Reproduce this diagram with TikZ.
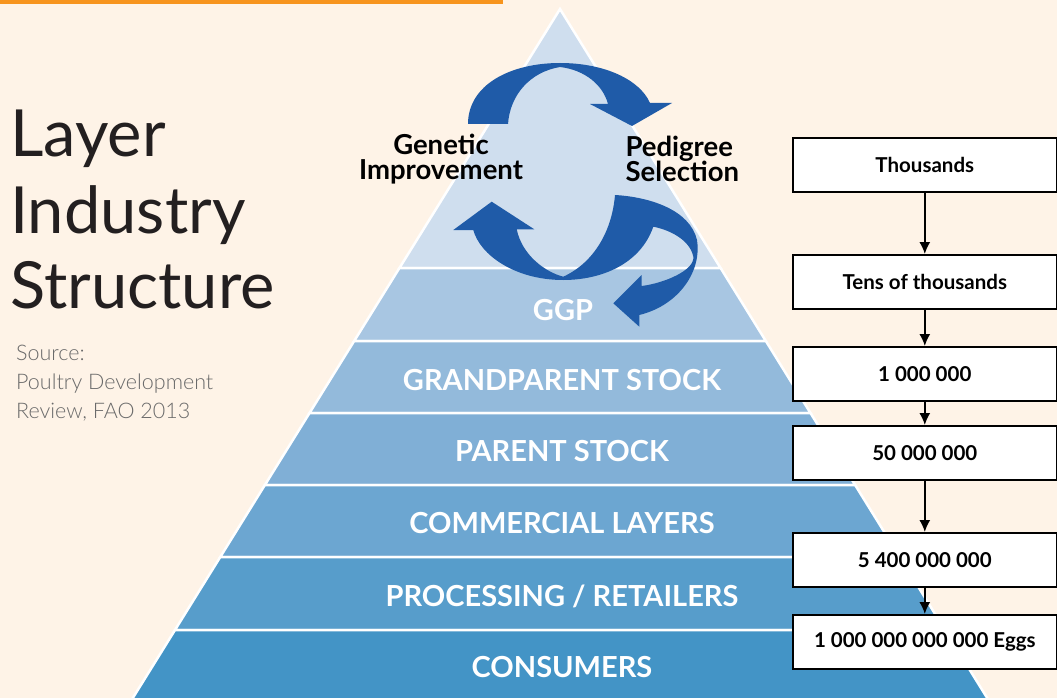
\documentclass[tikz,border=0pt]{standalone}
\usepackage{fontspec}
\setmainfont{Lato}
\newfontfamily\lightfont{Lato Light}
\definecolor{bg}{HTML}{FEF3E7}
\definecolor{orangebar}{HTML}{F7941D}
\definecolor{bandA}{HTML}{CFDEEE}
\definecolor{bandB}{HTML}{A8C6E2}
\definecolor{bandC}{HTML}{93BADB}
\definecolor{bandD}{HTML}{80AFD6}
\definecolor{bandE}{HTML}{6CA6D1}
\definecolor{bandF}{HTML}{579DCB}
\definecolor{bandG}{HTML}{4394C6}
\definecolor{arrowblue}{HTML}{1F5BA8}
\definecolor{titlegray}{HTML}{231F20}
\definecolor{srcgray}{HTML}{6A6A6A}
\begin{document}
\begin{tikzpicture}[x=1pt,y=-1pt,
  band/.style={draw=white,line width=2.5pt},
  bandlabel/.style={text=white,font=\fontsize{29}{30}\selectfont\bfseries,anchor=center},
  countbox/.style={draw=black,line width=1.6pt,fill=white,minimum width=264pt,minimum height=54pt,inner sep=0pt,font=\fontsize{20.5}{22}\selectfont\bfseries,anchor=north west},
  flow/.style={-{Latex[length=12pt,width=11pt]},line width=1.6pt,black},
  cyclelabel/.style={font=\fontsize{27.5}{26}\selectfont\bfseries,text=black,align=center},
  titletext/.style={anchor=base west,inner sep=0pt,text=titlegray,font=\fontsize{65}{65}\selectfont},
  srctext/.style={anchor=base west,inner sep=0pt,text=srcgray,font=\lightfont\fontsize{21.5}{22}\selectfont}]
\usetikzlibrary{arrows.meta}
\useasboundingbox (0,0) rectangle (1057,698);
\fill[bg] (0,0) rectangle (1057,698);
\fill[orangebar] (0,0) rectangle (503,4);
% pyramid bands: x = 560 -/+ 0.62*(y-9)
\def\xl#1{\fpeval{560-0.62*(#1-9)}}
\def\xr#1{\fpeval{560+0.62*(#1-9)}}
\filldraw[band,fill=bandA] (560,9) -- (\xr{268},268) -- (\xl{268},268) -- cycle;
\filldraw[band,fill=bandB] (\xl{268},268) -- (\xr{268},268) -- (\xr{341},341) -- (\xl{341},341) -- cycle;
\filldraw[band,fill=bandC] (\xl{341},341) -- (\xr{341},341) -- (\xr{413},413) -- (\xl{413},413) -- cycle;
\filldraw[band,fill=bandD] (\xl{413},413) -- (\xr{413},413) -- (\xr{485},485) -- (\xl{485},485) -- cycle;
\filldraw[band,fill=bandE] (\xl{485},485) -- (\xr{485},485) -- (\xr{557},557) -- (\xl{557},557) -- cycle;
\filldraw[band,fill=bandF] (\xl{557},557) -- (\xr{557},557) -- (\xr{630},630) -- (\xl{630},630) -- cycle;
\filldraw[band,fill=bandG] (\xl{630},630) -- (\xr{630},630) -- (\xr{710},710) -- (\xl{710},710) -- cycle;
% layer labels
\node[bandlabel] (ggp) at (563,310) {GGP};
\node[bandlabel] (gps) at (562,380) {GRANDPARENT STOCK};
\node[bandlabel] (ps) at (562,451) {PARENT STOCK};
\node[bandlabel] (cl) at (562,523) {COMMERCIAL LAYERS};
\node[bandlabel] (pr) at (562,596) {PROCESSING / RETAILERS};
\node[bandlabel] (co) at (562,667) {CONSUMERS};
% cycle arrows
\fill[arrowblue] (468,124) .. controls (468,85) and (510,63) .. (560,63)
  .. controls (605,63) and (640,80) .. (650,103) -- (672,103) -- (632,126) -- (590,104) -- (608,104)
  .. controls (603,85) and (585,70) .. (560,67)
  .. controls (530,72) and (510,95) .. (508,124) -- cycle;
\fill[arrowblue] (491.7,201.7) -- (534.3,229.3) -- (516.7,229.3)
  .. controls (522,255) and (545,272) .. (563.3,276.7)
  .. controls (595,262) and (612,230) .. (615,195)
  .. controls (650,197) and (690,210) .. (697,240)
  .. controls (702,270) and (680,305) .. (639.3,315)
  -- (639.3,326.7) -- (613.3,303.3) -- (641.7,275) -- (641.7,286)
  .. controls (665,283) and (695,270) .. (693.3,256.7)
  .. controls (690,240) and (670,230) .. (653.3,226.7)
  .. controls (640,265) and (600,280) .. (563.3,280)
  .. controls (515,280) and (480,255) .. (473.3,230)
  -- (453.3,230) -- cycle;
\node[cyclelabel] (gen) at (441,159) {Genetic\\[-1pt]Improvement};
\node[cyclelabel,align=left,anchor=west] (ped) at (622,159) {Pedigree\\[-1pt]Selection};
% title and source
\node[titletext] (t1) at (10,157) {Layer};
\node[titletext] (t2) at (10,233) {Industry};
\node[titletext] (t3) at (10,308) {Structure};
\node[srctext] (s1) at (16,360) {Source:};
\node[srctext] (s2) at (16,389) {Poultry Development};
\node[srctext] (s3) at (16,418) {Review, FAO 2013};
% count boxes
\node[countbox] (b1) at (792,137) {Thousands};
\node[countbox] (b2) at (792,254) {Tens of thousands};
\node[countbox] (b3) at (792,346) {1 000 000};
\node[countbox] (b4) at (792,425) {50 000 000};
\node[countbox] (b5) at (792,532) {5 400 000 000};
\node[countbox] (b6) at (792,614) {1 000 000 000 000 Eggs};
\draw[flow] (b1.south) -- (b2.north);
\draw[flow] (b2.south) -- (b3.north);
\draw[flow] (b3.south) -- (b4.north);
\draw[flow] (b4.south) -- (b5.north);
\draw[flow] (b5.south) -- (b6.north);
\end{tikzpicture}
\end{document}
